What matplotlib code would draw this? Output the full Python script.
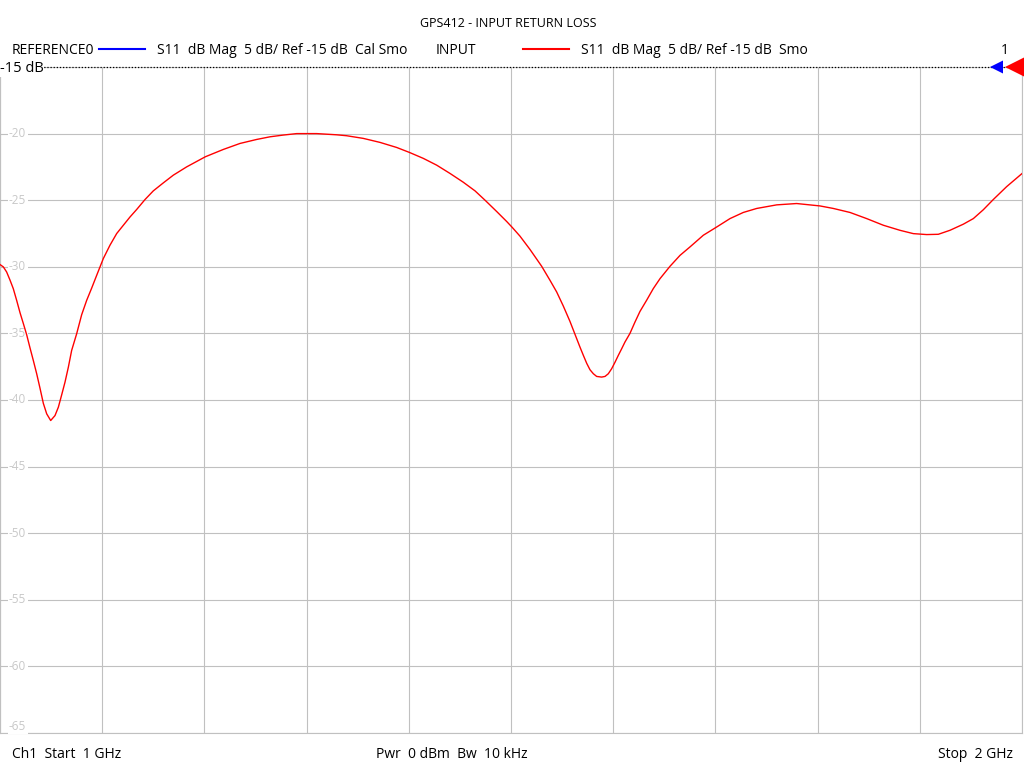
import numpy as np
import matplotlib
matplotlib.use("Agg")
import matplotlib.pyplot as plt
from matplotlib.lines import Line2D
from matplotlib.patches import Polygon
from matplotlib.transforms import blended_transform_factory

plt.rcParams['font.family'] = ['Open Sans', 'DejaVu Sans']

# trace data: frequency in MHz, S11 in dB
freq_mhz = [1000, 1003.3, 1006.5, 1009.8, 1013, 1016.3, 1019.6, 1022.8, 1026.1, 1029.4,
            1032.6, 1035.9, 1039.1, 1042.4, 1045.7, 1049.6, 1053.8, 1057.1, 1060.4, 1063.6,
            1066.9, 1070.1, 1075, 1079.9, 1084.8, 1089.7, 1094.6, 1101.1, 1107.6, 1114.2,
            1120.7, 1127.2, 1133.7, 1141.9, 1150, 1159.8, 1169.6, 1182.6, 1200.9, 1218.5,
            1234.8, 1251.1, 1264.2, 1277.2, 1290.3, 1309.9, 1329.4, 1339.2, 1355.5, 1371.8,
            1388.1, 1400.5, 1414.2, 1427.3, 1440.3, 1453.3, 1464.8, 1474.6, 1486, 1495.8,
            1501.3, 1508.8, 1518.6, 1530, 1538.2, 1544.7, 1551.2, 1557.7, 1561, 1564.3,
            1567.5, 1570.8, 1574.1, 1577.3, 1580.6, 1583.8, 1588.7, 1592, 1595.2, 1598.5,
            1601.8, 1605, 1608.3, 1611.5, 1616.4, 1621.3, 1626.2, 1632.8, 1639.2, 1645.8,
            1655.6, 1665.4, 1675.1, 1688.2, 1701.3, 1714.3, 1727.3, 1740.4, 1760, 1779.5,
            1802.3, 1815.4, 1831.7, 1848, 1864.3, 1880.6, 1893.7, 1906.7, 1918.1, 1929.5,
            1942.6, 1952.4, 1962.1, 1971.9, 1985, 2000]
s11_db = [-29.83, -30.01, -30.39, -31.0, -31.64, -32.52, -33.45, -34.25, -35.1, -36.1,
          -37.03, -38.03, -39.1, -40.25, -41.04, -41.54, -41.17, -40.54, -39.6, -38.66,
          -37.53, -36.28, -35.03, -33.6, -32.52, -31.6, -30.64, -29.38, -28.38, -27.5,
          -26.88, -26.26, -25.7, -24.95, -24.3, -23.7, -23.12, -22.5, -21.74, -21.19,
          -20.74, -20.44, -20.24, -20.11, -20.0, -20.0, -20.09, -20.16, -20.36, -20.66,
          -21.04, -21.41, -21.86, -22.37, -22.99, -23.65, -24.3, -25.0, -25.85, -26.6,
          -27.05, -27.7, -28.7, -29.96, -31.02, -31.89, -32.95, -34.1, -34.75, -35.4,
          -36.03, -36.65, -37.25, -37.73, -38.03, -38.23, -38.28, -38.23, -38.03, -37.65,
          -37.16, -36.65, -36.15, -35.65, -35.0, -34.15, -33.35, -32.5, -31.64, -30.89,
          -29.96, -29.14, -28.51, -27.63, -27.01, -26.38, -25.92, -25.62, -25.35, -25.25,
          -25.43, -25.62, -25.92, -26.38, -26.88, -27.26, -27.51, -27.58, -27.56, -27.26,
          -26.8, -26.38, -25.72, -24.95, -23.98, -23.0]

y_ticks = [-20, -25, -30, -35, -40, -45, -50, -55, -60, -65]
ref_level = -15
title = 'GPS412 - INPUT RETURN LOSS'
trace_names = ['REFERENCE0', 'INPUT']
trace_info = ['S11  dB Mag  5 dB/ Ref -15 dB  Cal Smo', 'S11  dB Mag  5 dB/ Ref -15 dB  Smo']
trace_colors = ['#0000ff', '#ff0000']

W, H = 1024, 768


def px(x, y):
    return x / W, 1 - y / H


fig = plt.figure(figsize=(W / 100, H / 100), dpi=100)
ax = fig.add_axes([0 / W, 1 - 733 / H, 1022 / W, (733 - 67) / H])

ax.set_xlim(1000, 2000)
ax.set_ylim(-65, -15)
ax.set_xticks(np.linspace(1000, 2000, 11))
ax.set_yticks(np.arange(-65, -14, 5))
ax.grid(True, color='#c0c0c0', lw=0.8)
ax.tick_params(left=False, bottom=False, labelleft=False, labelbottom=False)
for s in ['left', 'right', 'bottom']:
    ax.spines[s].set_color('#c0c0c0')
    ax.spines[s].set_linewidth(0.8)
ax.spines['top'].set_visible(False)

# y labels drawn inside the plot, over the grid
tr = blended_transform_factory(ax.transAxes, ax.transData)
for v in y_ticks:
    ax.text(9 / 1022, v, str(v), transform=tr, fontsize=8.5, color='#c8c8c8',
            va='bottom' if v == -65 else 'center', ha='left',
            bbox=dict(facecolor='white', edgecolor='none', pad=1.0))
ax.text(9 / 1022, ref_level, str(ref_level), transform=tr, fontsize=8.5,
        color='#c8c8c8', va='top', ha='left')

ax.plot(freq_mhz, s11_db, color='#ff0000', lw=1.0, zorder=3)

# reference line (dotted)
ax.axhline(ref_level, color='black', lw=0.9, ls=(0, (1, 1.5)), zorder=4, clip_on=False)
fig.text(*px(0, 69), '-15 dB', fontsize=10.5, va='center', ha='left',
         bbox=dict(facecolor='white', edgecolor='none', pad=0.3), zorder=5)

# reference markers on right edge
fig.add_artist(Polygon([px(990, 67), px(1003, 60.5), px(1003, 73.5)], closed=True,
                       facecolor='#0000ff', edgecolor='none', transform=fig.transFigure))
fig.add_artist(Polygon([px(1005, 67), px(1024, 57.5), px(1024, 76.5)], closed=True,
                       facecolor='#ff0000', edgecolor='none', transform=fig.transFigure))

# header
fig.text(*px(508, 23.5), title, fontsize=9, ha='center', va='center')
fig.text(*px(12, 51), trace_names[0], fontsize=10, ha='left', va='center')
fig.add_artist(Line2D([99 / W, 145 / W], [1 - 49 / H] * 2, color=trace_colors[0], lw=1.5))
fig.text(*px(157, 51), trace_info[0], fontsize=10, ha='left', va='center')
fig.text(*px(436, 51), trace_names[1], fontsize=10, ha='left', va='center')
fig.add_artist(Line2D([523 / W, 569 / W], [1 - 49 / H] * 2, color=trace_colors[1], lw=1.5))
fig.text(*px(581, 51), trace_info[1], fontsize=10, ha='left', va='center')
fig.text(*px(1005, 51), '1', fontsize=10, ha='center', va='center')

# footer
fig.text(*px(12, 754), 'Ch1  Start  1 GHz', fontsize=10, ha='left', va='center')
fig.text(*px(452, 754), 'Pwr  0 dBm  Bw  10 kHz', fontsize=10, ha='center', va='center')
fig.text(*px(1013, 754), 'Stop  2 GHz', fontsize=10, ha='right', va='center')

fig.savefig('out.png', dpi=100)
